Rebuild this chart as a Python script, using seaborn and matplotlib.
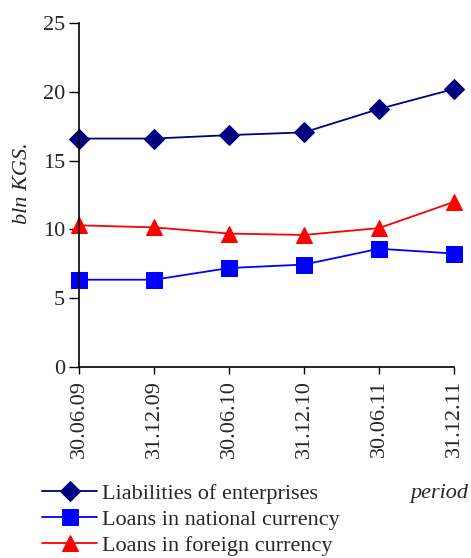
import pandas as pd
import matplotlib.pyplot as plt
import seaborn as sns

# Data
periods = ['30.06.09', '31.12.09', '30.06.10', '31.12.10', '30.06.11', '31.12.11']
liabilities = [16.6, 16.6, 16.85, 17.05, 18.75, 20.2]
loans_national = [6.35, 6.35, 7.2, 7.45, 8.6, 8.25]
loans_foreign = [10.3, 10.15, 9.7, 9.6, 10.1, 12.0]

series_names = ['Liabilities of enterprises', 'Loans in national currency', 'Loans in foreign currency']

data = pd.DataFrame({
    'idx': list(range(len(periods))) * 3,
    'value': liabilities + loans_national + loans_foreign,
    'series': [s for s in series_names for _ in periods],
})

sns.set_style('white')
plt.rcParams['font.family'] = ['Liberation Serif', 'DejaVu Serif']

fig = plt.figure(figsize=(4.71, 5.58), dpi=100)
ax = fig.add_axes([0.168, 0.342, 0.796, 0.617])

colors = {'Liabilities of enterprises': '#000080',
          'Loans in national currency': '#0000FF',
          'Loans in foreign currency': '#FF0000'}
markers = {'Liabilities of enterprises': 'D',
           'Loans in national currency': 's',
           'Loans in foreign currency': '^'}
sizes = {'Liabilities of enterprises': 10,
         'Loans in national currency': 12,
         'Loans in foreign currency': 12}

for name in series_names:
    sub = data[data['series'] == name]
    sns.lineplot(data=sub, x='idx', y='value', ax=ax, color=colors[name],
                 marker=markers[name], markersize=sizes[name],
                 markeredgecolor=colors[name], linewidth=1.3,
                 label=name, clip_on=False)

ax.set_xlim(0, len(periods) - 1)
ax.set_ylim(0, 25)
ax.set_yticks([0, 5, 10, 15, 20, 25])
ax.set_xticks(range(len(periods)))
ax.set_xticklabels(periods, rotation=90)
ax.tick_params(axis='y', labelsize=16, direction='out', length=7, width=1,
               color='black', left=True, pad=3)
ax.tick_params(axis='x', labelsize=16, direction='out', length=5, width=1,
               color='black', bottom=True, pad=4)
ax.set_xlabel('')
ax.set_ylabel('bln KGS.', fontsize=16, fontstyle='italic')
ax.yaxis.set_label_coords(-0.125, 0.535)

for side in ['top', 'right']:
    ax.spines[side].set_visible(False)
for side in ['left', 'bottom']:
    ax.spines[side].set_color('black')
    ax.spines[side].set_linewidth(1.2)

handles, labels = ax.get_legend_handles_labels()
ax.get_legend().remove()
fig.legend(handles, labels, loc='lower left', bbox_to_anchor=(0.07, -0.012),
           frameon=False, fontsize=16, handlelength=2.5, handletextpad=0.2,
           labelspacing=0.25, borderaxespad=0)

fig.text(0.995, 0.115, 'period', fontsize=16, fontstyle='italic',
         ha='right', va='center')

fig.savefig('out.png', dpi=100)
